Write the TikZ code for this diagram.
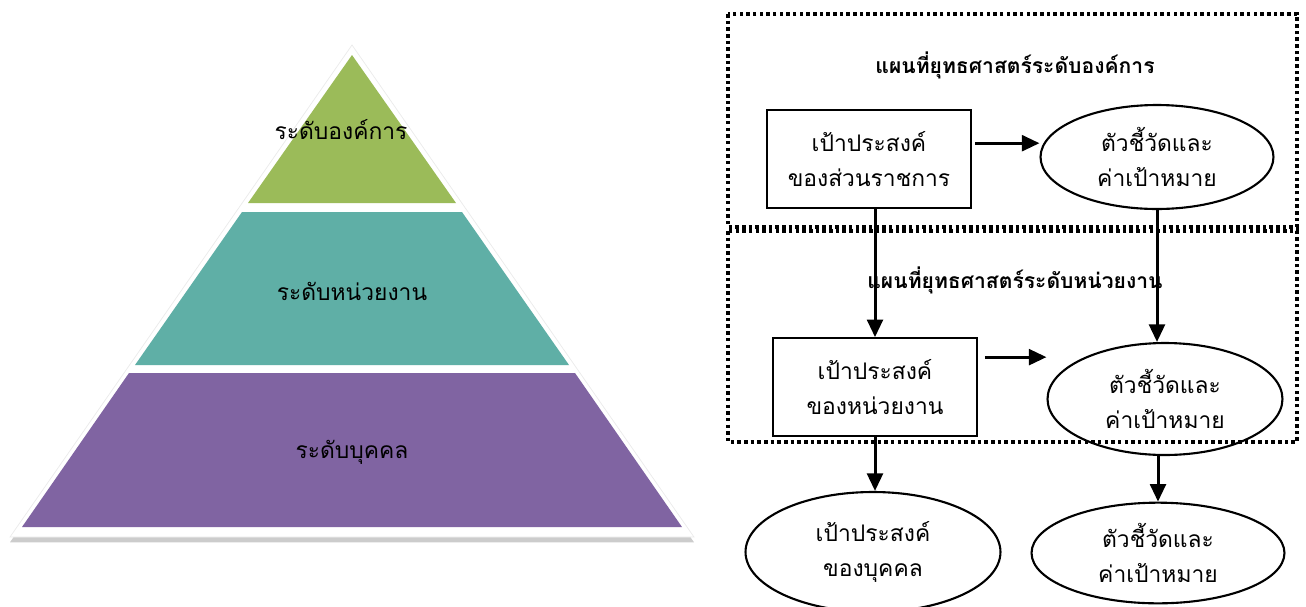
\documentclass[tikz,border=0pt]{standalone}
\usepackage{fontspec}
\newfontfamily\thaifont[Script=Thai]{Loma}
\definecolor{pyrgreen}{RGB}{155, 187, 89}
\definecolor{pyrteal}{RGB}{95, 175, 166}
\definecolor{pyrviolet}{RGB}{128, 100, 162}
\usetikzlibrary{shapes.geometric, arrows.meta, shadows}

\begin{document}
\begin{tikzpicture}[x=0.02cm, y=-0.02cm,
  thaitext/.style={font=\thaifont\fontsize{13}{20}\selectfont, align=center},
  plantitle/.style={font=\thaifont\bfseries\fontsize{12}{18}\selectfont},
  planframe/.style={line width=2.2pt, dash pattern=on 2pt off 1.8pt},
  goalbox/.style={draw, line width=1pt, minimum width=4.08cm, minimum height=1.96cm, thaitext},
  kpiellipse/.style={draw, ellipse, line width=1.2pt, thaitext},
  flow/.style={line width=1.7pt, -{Triangle[length=10pt, width=9pt]}}]
  \useasboundingbox (0,0) rectangle (1306,606);

  % Pyramid
  \fill[white, draw=black!8, drop shadow={shadow xshift=0pt, shadow yshift=-3pt, opacity=0.4}]
    (352,45) -- (694,537) -- (10,537) -- cycle;
  \fill[pyrgreen] (352,55) -- (456,203) -- (248,203) -- cycle;
  \fill[pyrteal] (242,212) -- (462,212) -- (569,365) -- (135,365) -- cycle;
  \fill[pyrviolet] (129,373) -- (575,373) -- (682,527) -- (22,527) -- cycle;
  \node[thaitext] (orgLevel) at (341,130) {ระดับองค์การ};
  \node[thaitext] (unitLevel) at (352,291) {ระดับหน่วยงาน};
  \node[thaitext] (personLevel) at (352,452) {ระดับบุคคล};

  % Strategy map frames
  \draw[planframe] (728,14) rectangle (1297,227);
  \draw[planframe] (728,231) rectangle (1297,442);
  \node[plantitle] (orgTitle) at (1015,65) {แผนที่ยุทธศาสตร์ระดับองค์การ};
  \node[plantitle] (unitTitle) at (1015,280) {แผนที่ยุทธศาสตร์ระดับหน่วยงาน};

  % Goals and indicators
  \node[goalbox] (orgGoal) at (869,159) {เป้าประสงค์\\ของส่วนราชการ};
  \node[kpiellipse, minimum width=4.66cm, minimum height=2.08cm] (orgKpi) at (1157,157) {ตัวชี้วัดและ\\ค่าเป้าหมาย};
  \node[goalbox] (unitGoal) at (875,387) {เป้าประสงค์\\ของหน่วยงาน};
  \node[kpiellipse, minimum width=4.7cm, minimum height=2.24cm] (unitKpi) at (1165,399) {ตัวชี้วัดและ\\ค่าเป้าหมาย};
  \node[kpiellipse, minimum width=5.1cm, minimum height=2.4cm] (personGoal) at (873,552) {เป้าประสงค์\\ของบุคคล};
  \node[kpiellipse, minimum width=5.06cm, minimum height=2cm] (personKpi) at (1158,553) {ตัวชี้วัดและ\\ค่าเป้าหมาย};

  % Arrows
  \draw[flow] ([xshift=2pt, yshift=9pt]orgGoal.east) coordinate (orgFrom) -- (orgFrom -| orgKpi.west);
  \draw[flow] ([xshift=4pt, yshift=17pt]unitGoal.east) coordinate (unitFrom) -- (unitFrom -| unitKpi.west);
  \draw[flow] (orgGoal.south -| unitGoal.north) -- (unitGoal.north);
  \draw[flow] (orgKpi.south) -- (orgKpi.south |- unitKpi.north);
  \draw[flow] (unitGoal.south) -- (unitGoal.south |- personGoal.north);
  \draw[flow] (unitKpi.south -| personKpi.north) -- (personKpi.north);
\end{tikzpicture}
\end{document}
